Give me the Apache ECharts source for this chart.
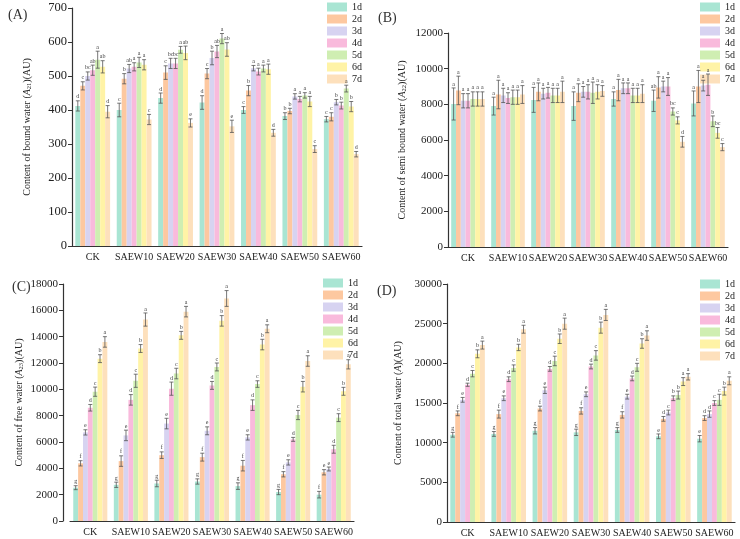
<!DOCTYPE html>
<html>
<head>
<meta charset="utf-8">
<script src="https://cdn.jsdelivr.net/npm/echarts@6/dist/echarts.min.js"></script>
<style>
  html, body { margin: 0; padding: 0; background: #fff; }
  #chart { width: 740px; height: 539px; }
</style>
</head>
<body>
<div id="chart"></div>
<script>
// categories and days
var categories = ['CK', 'SAEW10', 'SAEW20', 'SAEW30', 'SAEW40', 'SAEW50', 'SAEW60'];
var days = ['1d', '2d', '3d', '4d', '5d', '6d', '7d'];
var colors = ['#a9e5d3', '#fdc8a0', '#d7d3f1', '#f9badc', '#cfeeb2', '#fff3a6', '#fde0bc'];

// (A) bound water, one row per day, values per category
var boundMean = [
  [412, 400, 435, 422, 400, 382, 373],
  [471, 492, 510, 507, 457, 397, 380],
  [500, 522, 537, 553, 523, 440, 423],
  [517, 527, 537, 572, 513, 432, 413],
  [548, 540, 577, 610, 522, 443, 463],
  [527, 533, 568, 578, 520, 425, 410],
  [395, 372, 362, 352, 333, 285, 270]
];
var boundErr = [
  [15, 20, 15, 20, 10, 10, 8],
  [12, 15, 20, 15, 15, 8, 12],
  [12, 12, 15, 20, 8, 8, 8],
  [15, 12, 15, 18, 10, 8, 10],
  [25, 15, 10, 15, 10, 8, 10],
  [18, 15, 20, 20, 15, 15, 15],
  [18, 15, 12, 18, 10, 10, 8]
];
var boundSig = [
  ['d', 'c', 'd', 'd', 'c', 'b', 'c'],
  ['c', 'b', 'c', 'c', 'b', 'b', 'c'],
  ['bc', 'ab', 'bc', 'b', 'a', 'a', 'b'],
  ['ab', 'a', 'bc', 'ab', 'a', 'a', 'b'],
  ['a', 'a', 'a', 'a', 'a', 'a', 'a'],
  ['ab', 'a', 'ab', 'ab', 'a', 'a', 'b'],
  ['d', 'c', 'e', 'e', 'd', 'c', 'd']
];

// (B) semi bound water
var semiMean = [
  [8020, 7900, 8250, 7900, 8300, 8200, 8050],
  [8780, 8550, 8700, 8650, 8800, 8950, 9000],
  [8200, 8500, 8600, 8700, 8900, 9000, 9050],
  [8200, 8350, 8650, 8700, 8900, 9000, 9100],
  [8300, 8400, 8500, 8650, 8500, 7600, 7050],
  [8300, 8400, 8500, 8700, 8500, 7100, 6400],
  [8300, 8550, 8700, 8750, 8600, 5900, 5600]
];
var semiErr = [
  [900, 500, 700, 800, 400, 600, 700],
  [800, 800, 500, 500, 600, 600, 900],
  [400, 400, 300, 300, 300, 300, 300],
  [400, 300, 300, 400, 300, 500, 600],
  [400, 400, 400, 600, 400, 200, 300],
  [400, 400, 400, 400, 400, 200, 300],
  [400, 500, 600, 300, 500, 300, 200]
];
var semiSig = [
  ['a', 'a', 'a', 'a', 'a', 'ab', 'a'],
  ['a', 'a', 'a', 'a', 'a', 'a', 'a'],
  ['a', 'a', 'a', 'a', 'a', 'a', 'a'],
  ['a', 'a', 'a', 'a', 'a', 'a', 'a'],
  ['a', 'a', 'a', 'a', 'a', 'bc', 'b'],
  ['a', 'a', 'a', 'a', 'a', 'c', 'bc'],
  ['a', 'a', 'a', 'a', 'a', 'd', 'c']
];

// (C) free water
var freeMean = [
  [2530, 2750, 2850, 3000, 2650, 2200, 2000],
  [4380, 4550, 5000, 4850, 4200, 3550, 3700],
  [6730, 6500, 7400, 6850, 6350, 4450, 3950],
  [8600, 9200, 10050, 10300, 8800, 6200, 5450],
  [9820, 10650, 11200, 11700, 10400, 8050, 7850],
  [12330, 13100, 14100, 15200, 13400, 10200, 9850],
  [13600, 15300, 15900, 16900, 14600, 12150, 11900]
];
var freeErr = [
  [150, 200, 250, 200, 250, 200, 250],
  [200, 400, 250, 300, 400, 200, 200],
  [200, 400, 400, 300, 200, 200, 150],
  [250, 400, 500, 300, 400, 150, 300],
  [350, 500, 400, 300, 250, 350, 300],
  [300, 300, 300, 400, 400, 400, 300],
  [400, 500, 400, 600, 300, 400, 350]
];
var freeSig = [
  ['g', 'g', 'g', 'g', 'g', 'g', 'f'],
  ['f', 'f', 'f', 'f', 'f', 'f', 'e'],
  ['e', 'e', 'e', 'e', 'e', 'e', 'e'],
  ['d', 'd', 'd', 'd', 'd', 'd', 'd'],
  ['c', 'c', 'c', 'c', 'c', 'c', 'c'],
  ['b', 'b', 'b', 'b', 'b', 'b', 'b'],
  ['a', 'a', 'a', 'a', 'a', 'a', 'a']
];

// (D) total water
var totalMean = [
  [11000, 11100, 11500, 11300, 11600, 10800, 10500],
  [13700, 13600, 14300, 14000, 13500, 13000, 13100],
  [15400, 15600, 16600, 16100, 15800, 13800, 13600],
  [17300, 18000, 19300, 19600, 18100, 15600, 15000],
  [18700, 19400, 20300, 21000, 19500, 16000, 15400],
  [21200, 22000, 23100, 24500, 22500, 17700, 16500],
  [22300, 24300, 25000, 26100, 23500, 18300, 17800]
];
var totalErr = [
  [300, 300, 400, 400, 300, 300, 400],
  [300, 500, 300, 400, 400, 300, 300],
  [300, 300, 400, 300, 300, 300, 400],
  [200, 300, 300, 300, 300, 300, 300],
  [400, 400, 600, 600, 500, 500, 700],
  [500, 400, 600, 700, 600, 500, 500],
  [500, 500, 700, 700, 600, 400, 500]
];
var totalSig = [
  ['g', 'g', 'g', 'g', 'g', 'e', 'e'],
  ['f', 'f', 'f', 'f', 'f', 'd', 'd'],
  ['e', 'e', 'e', 'e', 'e', 'c', 'd'],
  ['d', 'd', 'd', 'd', 'd', 'b', 'c'],
  ['c', 'c', 'c', 'c', 'c', 'b', 'c'],
  ['b', 'b', 'b', 'b', 'b', 'a', 'b'],
  ['a', 'a', 'a', 'a', 'a', 'a', 'a']
];

var FONT = 'Liberation Serif';
var GAP = 0.16;
var INK = '#222';

var panels = [
  { tag: '(A)', tagPos: [3, 3], grid: { left: 72, top: 8, width: 290, height: 238 }, max: 700, interval: 100,
    name: '{n|Content of bound water (}{i|A}{s|21}{n|)(AU)}', nameGap: 39, offset: 0, tickSize: 12.5,
    legend: { left: 327, top: 2 }, mean: boundMean, err: boundErr, sig: boundSig },
  { tag: '(B)', tagPos: [373, 6], grid: { left: 448, top: 33, width: 280, height: 214 }, max: 12000, interval: 2000,
    name: '{n|Content of semi bound water (}{i|A}{s|22}{n|)(AU)}', nameGap: 40, offset: 0, tickSize: 11,
    legend: { left: 700, top: 2 }, mean: semiMean, err: semiErr, sig: semiSig },
  { tag: '(C)', tagPos: [7, 275], grid: { left: 70, top: 284, width: 284, height: 237 }, max: 18000, interval: 2000,
    name: '{n|Content of free water (}{i|A}{s|23}{n|)(AU)}', nameGap: 38, offset: 7, tickSize: 11,
    legend: { left: 323, top: 278 }, mean: freeMean, err: freeErr, sig: freeSig },
  { tag: '(D)', tagPos: [372, 279], grid: { left: 447, top: 284, width: 288, height: 238 }, max: 30000, interval: 5000,
    name: '{n|Content of total water (}{i|A}{n|)(AU)}', nameGap: 44, offset: 0, tickSize: 11,
    legend: { left: 700, top: 279 }, mean: totalMean, err: totalErr, sig: totalSig }
];

var option = {
  backgroundColor: '#fff',
  animation: false,
  textStyle: { fontFamily: FONT },
  title: [], grid: [], xAxis: [], yAxis: [], legend: [], series: []
};

panels.forEach(function (p, pi) {
  option.title.push({
    text: p.tag, left: p.tagPos[0], top: p.tagPos[1],
    textStyle: { fontFamily: FONT, fontSize: 14, fontWeight: 'normal', color: '#333' }
  });
  option.grid.push(p.grid);
  option.xAxis.push({
    type: 'category', gridIndex: pi, data: categories,
    axisLine: { lineStyle: { color: '#333', width: 1.2 } },
    axisTick: { alignWithLabel: true, length: 4, lineStyle: { color: '#333' } },
    axisLabel: { color: INK, fontFamily: FONT, fontSize: 10, margin: 6, interval: 0 },
    splitLine: { show: false }
  });
  option.yAxis.push({
    type: 'value', gridIndex: pi, min: 0, max: p.max, interval: p.interval, offset: p.offset,
    name: p.name, nameLocation: 'middle', nameGap: p.nameGap,
    nameTextStyle: {
      rich: {
        n: { fontFamily: FONT, fontSize: 10, color: INK },
        i: { fontFamily: FONT, fontSize: 10, fontStyle: 'italic', color: INK },
        s: { fontFamily: FONT, fontSize: 6.5, color: INK, verticalAlign: 'bottom', padding: [4, 0, 0, 0] }
      }
    },
    axisLine: { show: true, lineStyle: { color: '#333', width: 1.2 } },
    axisTick: { show: true, length: 4, lineStyle: { color: '#333' } },
    axisLabel: { color: INK, fontFamily: FONT, fontSize: p.tickSize, margin: 5,
                 formatter: function (v) { return String(v); } },
    splitLine: { show: false }
  });
  option.legend.push({
    left: p.legend.left, top: p.legend.top, orient: 'vertical',
    icon: 'rect', itemWidth: 20, itemHeight: 9, itemGap: 2,
    padding: 0, selectedMode: false,
    data: days,
    textStyle: { fontFamily: FONT, fontSize: 10, color: INK, padding: [0, 0, 0, 0] }
  });

  days.forEach(function (d, di) {
    option.series.push({
      name: d, type: 'bar', xAxisIndex: pi, yAxisIndex: pi,
      data: p.mean[di], barGap: 0, barCategoryGap: (GAP * 100) + '%',
      itemStyle: { color: colors[di] }, silent: true
    });
  });

  var ebData = [];
  days.forEach(function (d, di) {
    categories.forEach(function (c, ci) {
      ebData.push([ci, p.mean[di][ci], p.err[di][ci], di]);
    });
  });
  option.series.push({
    type: 'custom', xAxisIndex: pi, yAxisIndex: pi, silent: true, z: 5, clip: false,
    data: ebData,
    encode: { x: 0, y: 1 },
    renderItem: function (params, api) {
      var ci = api.value(0), v = api.value(1), e = api.value(2), di = api.value(3);
      var band = api.size([1, 0])[0];
      var bw = band * (1 - GAP) / days.length;
      var x = api.coord([ci, v])[0] + (di - 3) * bw;
      var yTop = api.coord([ci, v + e])[1];
      var yBot = api.coord([ci, v - e])[1];
      var cap = 2;
      var st = { stroke: '#555', lineWidth: 0.8 };
      return {
        type: 'group',
        children: [
          { type: 'line', shape: { x1: x, y1: yTop, x2: x, y2: yBot }, style: st },
          { type: 'line', shape: { x1: x - cap, y1: yTop, x2: x + cap, y2: yTop }, style: st },
          { type: 'line', shape: { x1: x - cap, y1: yBot, x2: x + cap, y2: yBot }, style: st },
          { type: 'text', x: x, y: yTop - 1,
            style: { text: p.sig[di][ci], fill: '#444', font: '6px ' + FONT,
                     textAlign: 'center', textVerticalAlign: 'bottom' } }
        ]
      };
    }
  });
});

var chart = echarts.init(document.getElementById('chart'), null, { renderer: 'canvas' });
chart.setOption(option);
</script>
</body>
</html>
